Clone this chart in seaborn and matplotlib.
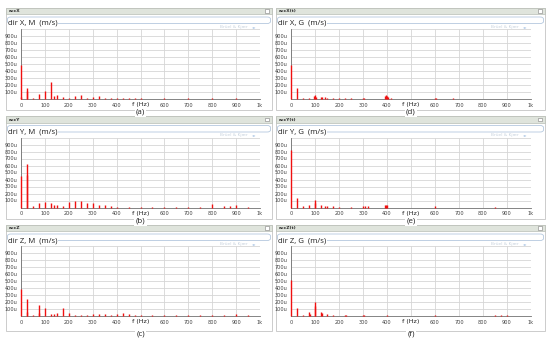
import matplotlib
matplotlib.use("Agg")
import matplotlib.pyplot as plt
from matplotlib.patches import Rectangle, FancyBboxPatch
import seaborn as sns

# spectrum lines: frequency (Hz) and amplitude (u m/s)
fa = [0, 2, 25, 27, 50, 75, 100, 125, 137, 150, 175, 200, 225, 250, 275, 300, 325, 350, 375, 400,
      425, 450, 475, 500, 550, 600, 650, 700, 750, 800, 850, 900, 950]
aa = [480, 30, 160, 110, 15, 70, 110, 240, 50, 60, 35, 15, 50, 55, 20, 35, 40, 15, 15, 15,
      10, 10, 12, 8, 6, 8, 5, 8, 5, 10, 5, 10, 5]

fb = [0, 25, 27, 50, 75, 100, 125, 137, 150, 175, 200, 225, 250, 275, 300, 325, 350, 375, 400,
      450, 500, 550, 600, 650, 700, 750, 800, 850, 875, 900, 950]
ab = [450, 620, 460, 20, 70, 80, 60, 30, 40, 20, 80, 100, 90, 60, 60, 30, 30, 20, 10,
      10, 10, 10, 10, 8, 10, 10, 50, 15, 25, 30, 10]

fc = [0, 25, 27, 50, 75, 77, 100, 125, 137, 150, 175, 200, 225, 250, 275, 300, 325, 350, 375, 400,
      425, 450, 475, 500, 550, 600, 650, 700, 750, 800, 850, 900, 950]
ac = [380, 240, 60, 20, 160, 40, 110, 30, 30, 50, 120, 50, 20, 15, 20, 30, 25, 25, 20, 30,
      45, 30, 15, 10, 10, 10, 8, 8, 8, 8, 8, 25, 8]

fd = [0, 25, 50, 75, 95, 100, 105, 125, 130, 140, 150, 175, 200, 225, 250, 300, 305,
      390, 395, 400, 405, 415, 600, 605, 675]
ad = [480, 160, 10, 20, 40, 60, 30, 30, 25, 25, 20, 15, 15, 10, 10, 15, 10,
      40, 55, 45, 30, 15, 10, 8, 10]

fe = [0, 25, 50, 75, 100, 102, 125, 140, 150, 175, 200, 250, 300, 310, 320, 390, 395, 400, 600, 850]
ae = [820, 140, 15, 40, 110, 60, 30, 20, 20, 15, 10, 10, 20, 15, 25, 30, 40, 30, 15, 10]

ff = [0, 25, 50, 75, 78, 100, 102, 125, 128, 150, 175, 225, 230, 300, 305, 400, 600, 850, 875, 900]
af = [520, 120, 15, 60, 30, 200, 140, 60, 40, 30, 10, 15, 12, 20, 15, 8, 15, 10, 10, 10]

headers = ["accX", "accY", "accZ", "accX(t)", "accY(t)", "accZ(t)"]
titles = ["dir X, M  (m/s)", "dri Y, M  (m/s)", "dir Z, M  (m/s)",
          "dir X, G  (m/s)", "dir Y, G  (m/s)", "dir Z, G  (m/s)"]
captions = ["(a)", "(b)", "(c)", "(d)", "(e)", "(f)"]
freqs = [fa, fb, fc, fd, fe, ff]
amps = [aa, ab, ac, ad, ae, af]

xticks = [0, 100, 200, 300, 400, 500, 600, 700, 800, 900, 1000]
# the 500 label sits under the "f (Hz)" axis name
xlabels = ["0", "100", "200", "300", "400", "", "600", "700", "800", "900", "1k"]
yticks = [100, 200, 300, 400, 500, 600, 700, 800, 900]
ylabels = [f"{v}u" for v in yticks]

sns.set_style("white")
plt.rcParams["font.family"] = ["DejaVu Sans"]

W, H = 550, 342
fig = plt.figure(figsize=(5.5, 3.42), dpi=100)


def fx(x):
    return x / W


def fy(y):
    return 1 - y / H


row_tops = [8, 116.5, 225]
row_bottoms = [110, 219, 331]
caption_y = [112, 221.5, 334]
cols = [(6, 272, 21, 260), (276, 545, 291, 531)]

for i in range(6):
    col, row = divmod(i, 3)
    bl, br, al, ar = cols[col]
    t = row_tops[row]

    # panel frame
    fig.add_artist(Rectangle((fx(bl), fy(row_bottoms[row])), fx(br - bl), (row_bottoms[row] - t) / H,
                             transform=fig.transFigure, facecolor="white", edgecolor="#c4c4c4",
                             lw=0.6, zorder=-3))
    # header bar
    fig.add_artist(Rectangle((fx(bl), fy(t + 6)), fx(br - bl), 6 / H, transform=fig.transFigure,
                             facecolor="#dfe4dc", edgecolor="#b8beb5", lw=0.5, zorder=-2))
    fig.text(fx(bl + 2.5), fy(t + 3.2), headers[i], fontsize=3.2, fontweight="bold",
             color="#303030", va="center", ha="left")
    fig.add_artist(Rectangle((fx(br - 7), fy(t + 4.8)), fx(3.5), 3.5 / H, transform=fig.transFigure,
                             facecolor="white", edgecolor="#808080", lw=0.4, zorder=-1))
    # title box
    fig.add_artist(FancyBboxPatch((fx(bl + 1.5), fy(t + 15.5)), fx(br - bl - 3), 6.5 / H,
                                  boxstyle="round,pad=0,rounding_size=0.006", transform=fig.transFigure,
                                  facecolor="none", edgecolor="#b4c8de", lw=0.6, zorder=-1))
    fig.text(fx(bl + 2), fy(t + 15.5), titles[i], fontsize=5.6, family="Open Sans",
             color="#202020", va="center", ha="left",
             bbox=dict(facecolor="white", edgecolor="none", pad=0.3))
    fig.text(fx(ar - 12), fy(t + 18.7), "Brüel & Kjær", fontsize=3.2, color="#c9d3de",
             va="center", ha="right")
    fig.text(fx(ar - 6), fy(t + 18.7), "◂▸", fontsize=3.2, color="#a9c4e4",
             va="center", ha="center")

    # spectrum axes
    ax = fig.add_axes([fx(al), fy(t + 91), fx(ar - al), 70 / H])
    ax.patch.set_alpha(0)
    ax.vlines(freqs[i], 0, amps[i], color="#f01010", lw=1.0, zorder=4, clip_on=False)
    ax.set_xlim(0, 1000)
    ax.set_ylim(0, 1000)
    ax.set_xticks(xticks)
    ax.set_xticklabels(xlabels)
    ax.set_yticks(yticks + [1000])
    ax.set_yticklabels(ylabels + [""])
    ax.grid(True, color="#d6d6d6", lw=0.6)
    ax.set_axisbelow(True)
    ax.tick_params(axis="both", labelsize=3.6, length=1.5, width=0.4, pad=1.2, colors="#404040")
    for side in ["top", "right"]:
        ax.spines[side].set_visible(False)
    for side in ["left", "bottom"]:
        ax.spines[side].set_color("#707070")
        ax.spines[side].set_linewidth(0.6)

    fig.text(fx(al + 0.5 * (ar - al)), fy(t + 96.8), "f (Hz)", fontsize=4.6, color="#202020",
             ha="center", va="center")
    fig.text(fx((al + ar) / 2), fy(caption_y[row]), captions[i], fontsize=5.8, family="Open Sans",
             color="#202020", ha="center", va="center",
             bbox=dict(facecolor="white", edgecolor="none", pad=1.0))

fig.savefig("out.png", dpi=100)
